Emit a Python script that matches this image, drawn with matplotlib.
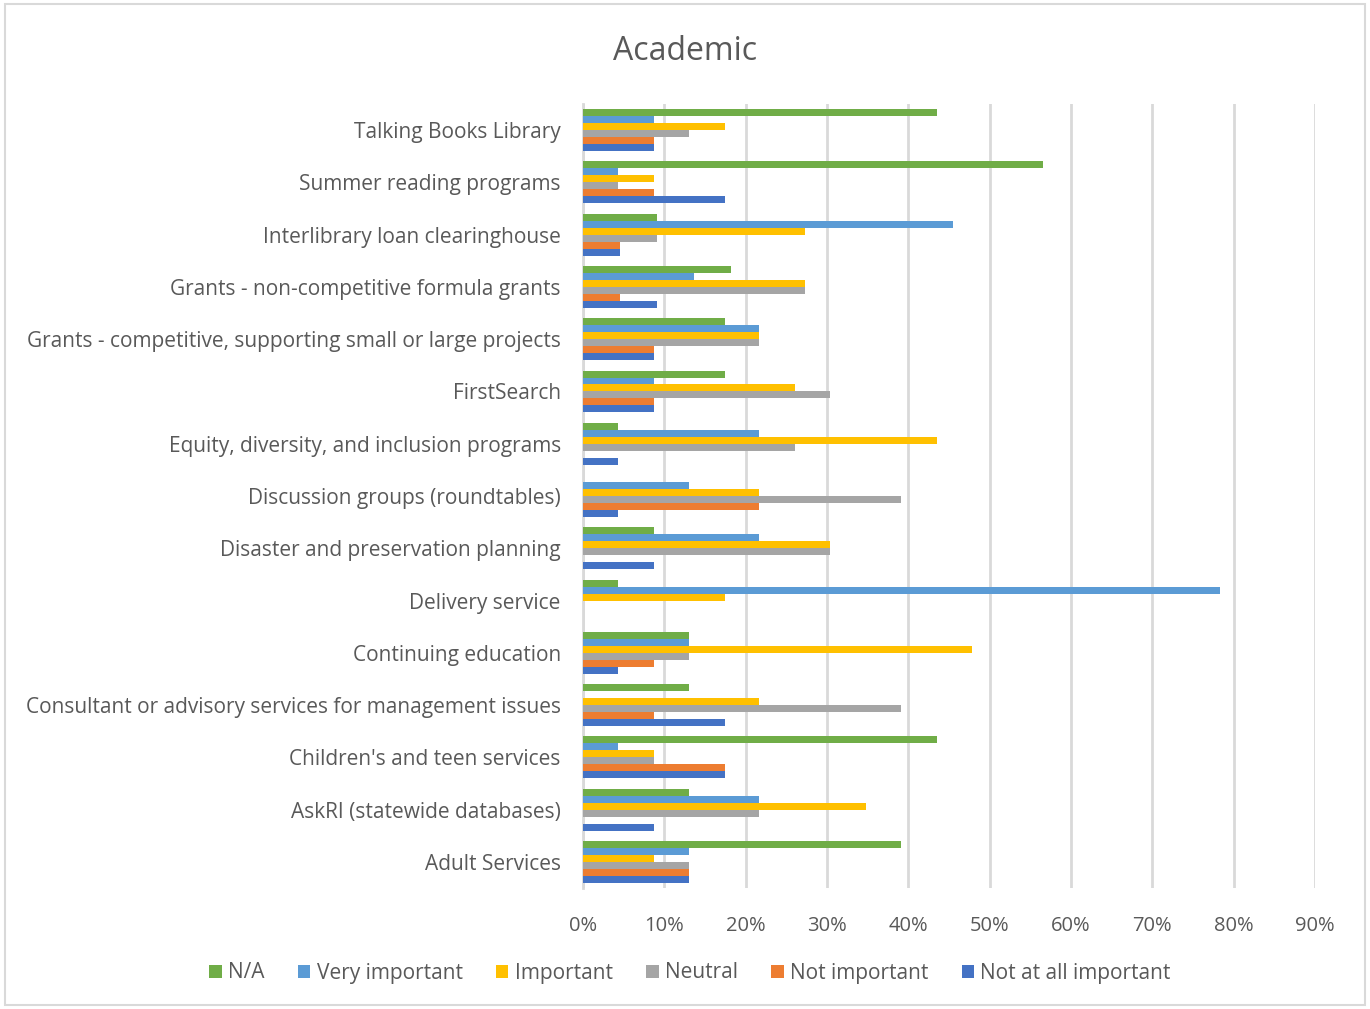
import matplotlib
matplotlib.use("Agg")
import matplotlib.pyplot as plt
import numpy as np
from matplotlib.ticker import PercentFormatter

plt.rcParams['font.family'] = ['Open Sans', 'DejaVu Sans']

# bottom to top, as the axis draws them
categories = [
    "Adult Services",
    "AskRI (statewide databases)",
    "Children's and teen services",
    "Consultant or advisory services for management issues",
    "Continuing education",
    "Delivery service",
    "Disaster and preservation planning",
    "Discussion groups (roundtables)",
    "Equity, diversity, and inclusion programs",
    "FirstSearch",
    "Grants - competitive, supporting small or large projects",
    "Grants - non-competitive formula grants",
    "Interlibrary loan clearinghouse",
    "Summer reading programs",
    "Talking Books Library",
]

# shares in percent, same order as categories
not_at_all = [13.0, 8.7, 17.4, 17.4, 4.3, 0, 8.7, 4.3, 4.3, 8.7, 8.7, 9.1, 4.5, 17.4, 8.7]
not_important = [13.0, 0, 17.4, 8.7, 8.7, 0, 0, 21.7, 0, 8.7, 8.7, 4.5, 4.5, 8.7, 8.7]
neutral = [13.0, 21.7, 8.7, 39.1, 13.0, 0, 30.4, 39.1, 26.1, 30.4, 21.7, 27.3, 9.1, 4.3, 13.0]
important = [8.7, 34.8, 8.7, 21.7, 47.8, 17.4, 30.4, 21.7, 43.5, 26.1, 21.7, 27.3, 27.3, 8.7, 17.4]
very_important = [13.0, 21.7, 4.3, 0, 13.0, 78.3, 21.7, 13.0, 21.7, 8.7, 21.7, 13.6, 45.5, 4.3, 8.7]
na = [39.1, 13.0, 43.5, 13.0, 13.0, 4.3, 8.7, 0, 4.3, 17.4, 17.4, 18.2, 9.1, 56.5, 43.5]

series = [
    ("Not at all important", not_at_all, "#4472C4"),
    ("Not important", not_important, "#ED7D31"),
    ("Neutral", neutral, "#A5A5A5"),
    ("Important", important, "#FFC000"),
    ("Very important", very_important, "#5B9BD5"),
    ("N/A", na, "#70AD47"),
]

fig = plt.figure(figsize=(13.7, 10.09), dpi=100)
ax = fig.add_axes([583 / 1370, 1 - 888 / 1009, (1315 - 583) / 1370, (888 - 104) / 1009])

y = np.arange(len(categories))
bar_h = 0.8 / len(series)
handles = []
for i, (name, vals, color) in enumerate(series):
    offs = (i - (len(series) - 1) / 2) * bar_h
    b = ax.barh(y + offs, np.array(vals) / 100, height=bar_h, color=color,
                label=name, zorder=3)
    handles.append(b)

ax.set_xlim(0, 0.9)
ax.set_ylim(-0.5, len(categories) - 0.5)
ax.set_xticks(np.arange(0, 0.91, 0.1))
ax.xaxis.set_major_formatter(PercentFormatter(1.0, decimals=0))
ax.set_yticks(y)
ax.set_yticklabels(categories)
ax.grid(axis="x", color="#D9D9D9", linewidth=2, zorder=0)
for s in ["top", "right", "bottom"]:
    ax.spines[s].set_visible(False)
ax.spines["left"].set_color("#D9D9D9")
ax.spines["left"].set_linewidth(2)
ax.tick_params(axis="both", length=0, colors="#595959")
ax.tick_params(axis="x", labelsize=14.5, pad=20)
ax.tick_params(axis="y", labelsize=15, pad=16)

fig.text(0.5, 1 - 51 / 1009, "Academic", ha="center", va="center",
         fontsize=23, color="#595959")

leg = fig.legend(handles[::-1], [s[0] for s in series][::-1], loc="center",
                 bbox_to_anchor=(690 / 1370, 1 - 973 / 1009), ncol=6,
                 frameon=False, fontsize=15, handlelength=0.6, handleheight=0.6,
                 handletextpad=0.3, columnspacing=1.6)
for t in leg.get_texts():
    t.set_color("#595959")

# outer chart border
fig.patches.append(plt.Rectangle((5 / 1370, 4 / 1009), 1360 / 1370, 1001 / 1009,
                                 transform=fig.transFigure, fill=False,
                                 edgecolor="#D9D9D9", linewidth=1.5))

fig.savefig("out.png", dpi=100)
